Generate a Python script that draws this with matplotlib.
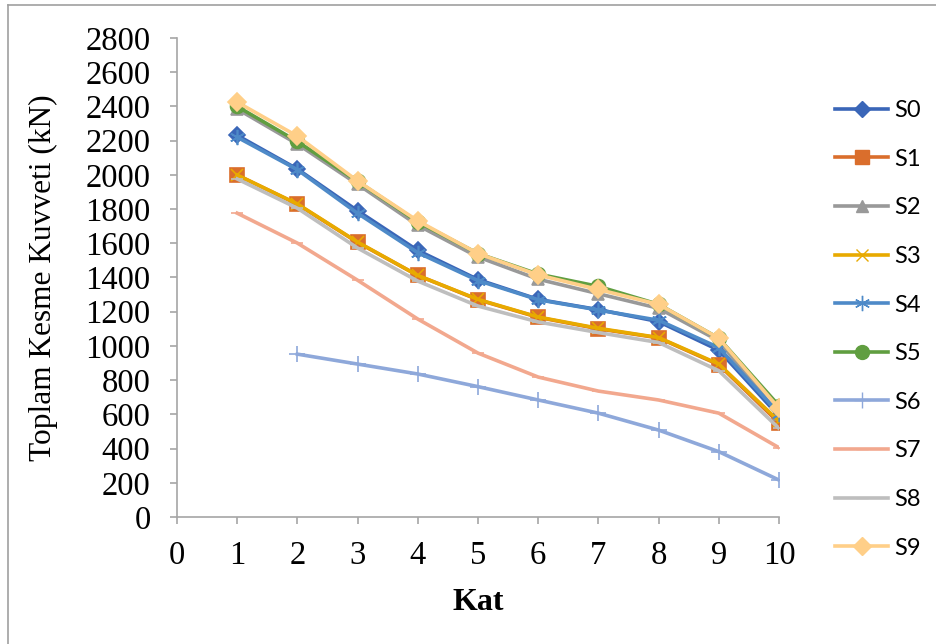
import matplotlib.pyplot as plt
import numpy as np
from matplotlib.lines import Line2D

plt.rcParams["font.family"] = "Liberation Serif"

kat = [1, 2, 3, 4, 5, 6, 7, 8, 9, 10]
names = ["S0", "S1", "S2", "S3", "S4", "S5", "S6", "S7", "S8", "S9"]

s0 = [2231, 2034, 1790, 1558, 1388, 1272, 1212, 1142, 975, 590]
s1 = [1999, 1828, 1605, 1412, 1270, 1167, 1100, 1047, 890, 550]
s2 = [2385, 2180, 1945, 1705, 1520, 1390, 1305, 1220, 1030, 600]
s3 = [1999, 1830, 1607, 1412, 1272, 1169, 1103, 1049, 894, 560]
s4 = [2220, 2030, 1775, 1545, 1382, 1270, 1210, 1150, 990, 605]
s5 = [2400, 2195, 1962, 1725, 1540, 1420, 1348, 1243, 1045, 650]
s6 = [np.nan, 952, 894, 836, 762, 684, 607, 508, 382, 216]
s7 = [1776, 1601, 1384, 1157, 958, 818, 736, 684, 607, 405]
s8 = [1976, 1805, 1572, 1379, 1233, 1140, 1078, 1020, 855, 518]
s9 = [2425, 2226, 1964, 1731, 1540, 1415, 1330, 1243, 1045, 635]
series = [s0, s1, s2, s3, s4, s5, s6, s7, s8, s9]

colors = ["#3A66B8", "#DA6E2C", "#999999", "#E8AA00", "#4E8AC8",
          "#609E40", "#8EA8DA", "#F2A88E", "#BEBEBE", "#FFCF88"]
markers = ["D", "s", "^", "x", (6, 2, 0), "o", "+", "_", "_", "D"]
msizes = [8, 9.5, 9, 9, 11, 10, 12, 9, 9, 9]

fig = plt.figure(figsize=(9.37, 6.44), dpi=100)
ax = fig.add_axes([0.1889, 0.1972, 0.8314 - 0.1889, 0.941 - 0.1972])

for vals, c, m, ms in zip(series, colors, markers, msizes):
    ax.plot(kat, vals, color=c, lw=2.6, marker=m, markersize=ms,
            markerfacecolor=c, markeredgecolor=c, markeredgewidth=1.2)

ax.set_xlim(0, 10)
ax.set_ylim(0, 2800)
ax.set_xticks(range(0, 11))
ax.set_yticks(range(0, 2801, 200))
for side in ["top", "right"]:
    ax.spines[side].set_visible(False)
for side in ["left", "bottom"]:
    ax.spines[side].set_color("#A6A6A6")
    ax.spines[side].set_linewidth(1.2)
ax.tick_params(axis="both", colors="#A6A6A6", length=5, width=1.2,
               labelcolor="black", labelsize=23.5)
ax.tick_params(axis="y", pad=14)
ax.tick_params(axis="x", pad=12)
ax.set_ylabel("Toplam Kesme Kuvveti (kN)", fontsize=22.6, labelpad=20)
ax.set_xlabel("Kat", fontsize=23, fontweight="bold", labelpad=12)

handles = [Line2D([], [], color=c, lw=2.6, marker=m, markersize=ms,
                  markerfacecolor=c, markeredgecolor=c)
           for c, m, ms in zip(colors, markers, msizes)]
fig.legend(handles, names, loc="upper left", bbox_to_anchor=(835 / 937, 1 - 100 / 644),
           frameon=False, prop={"family": "Lato", "size": 17},
           borderpad=0, borderaxespad=0,
           handlelength=2.25, handletextpad=0.25, labelspacing=1.17)

# chart area border (left and top edges only, as cropped in the original)
fig.add_artist(Line2D([8 / 937, 8 / 937], [0, 1 - 5 / 644],
                      transform=fig.transFigure, color="#A0A0A0", lw=1.2))
fig.add_artist(Line2D([8 / 937, 1], [1 - 5 / 644, 1 - 5 / 644],
                      transform=fig.transFigure, color="#A0A0A0", lw=1.2))

fig.savefig("out.png", dpi=100)
